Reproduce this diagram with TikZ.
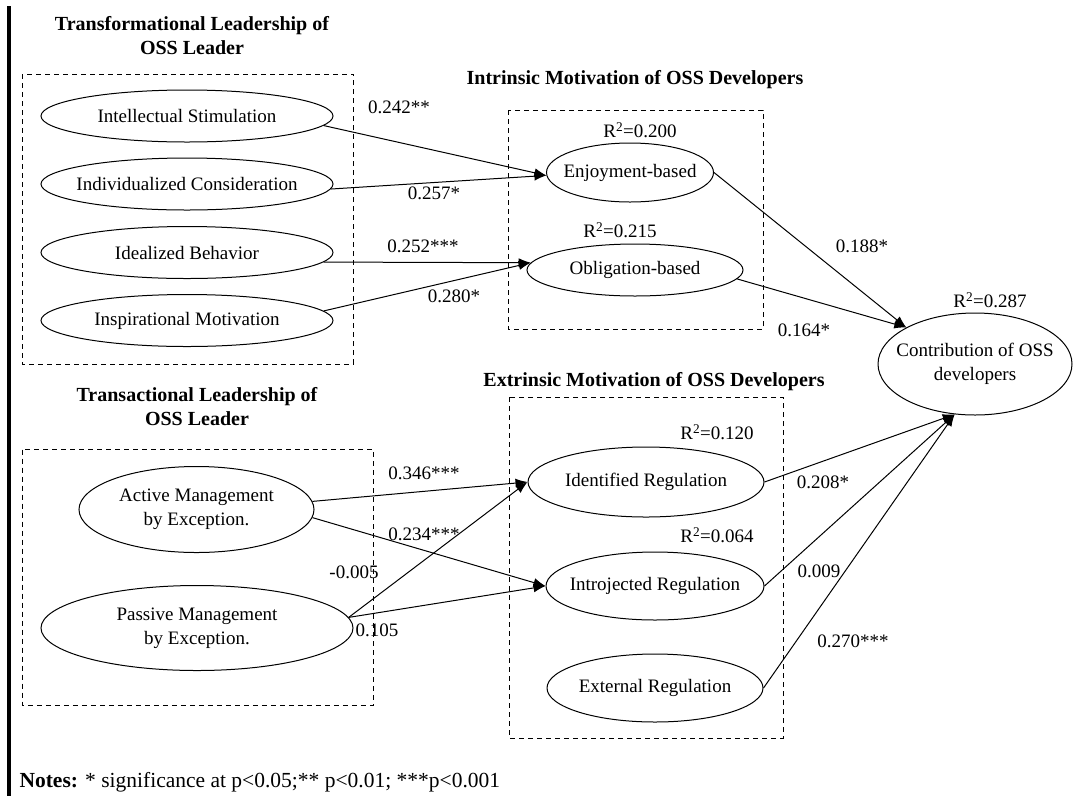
\documentclass[tikz,border=0pt]{standalone}
\usepackage{fontspec}
\setmainfont{Liberation Serif}
\usetikzlibrary{arrows.meta, shapes.geometric}

\tikzset{
    construct/.style={draw, ellipse, line width=1pt, inner sep=0pt},
    groupbox/.style={draw, line width=1pt, dash pattern=on 5pt off 4pt},
    effect/.style={-{Latex[length=12pt, width=9pt]}, line width=1pt},
    heading/.style={font=\fontsize{20}{24}\selectfont\bfseries, align=center},
    every label/.style={align=center},
}

\begin{document}
\begin{tikzpicture}[x=1pt, y=-1pt, font=\fontsize{19}{24}\selectfont]
        \useasboundingbox (0, 0) rectangle (1073, 796);
        \draw[line width=3.5pt] (9, 6) -- (9, 796);

        \node[heading](tfl) at (192, 35.5) {Transformational Leadership of\\OSS Leader};
        \node[heading](iml) at (635, 80) {Intrinsic Motivation of OSS Developers};
        \node[heading](tal) at (197, 406.5) {Transactional Leadership of\\OSS Leader};
        \node[heading](eml) at (654, 382) {Extrinsic Motivation of OSS Developers};

        \draw[groupbox] (22.4, 74) rectangle (353.5, 364);
        \draw[groupbox] (508, 110) rectangle (763, 329);
        \draw[groupbox] (22.4, 449.5) rectangle (373.5, 705);
        \draw[groupbox] (509, 397) rectangle (783, 738);

        \node[construct, minimum width=292pt, minimum height=52pt, label=center:Intellectual Stimulation](is) at (187, 116) {};
        \node[construct, minimum width=292pt, minimum height=52pt, label=center:Individualized Consideration](ic) at (187, 184) {};
        \node[construct, minimum width=292pt, minimum height=52pt, label=center:Idealized Behavior](ib) at (187, 252.5) {};
        \node[construct, minimum width=292pt, minimum height=52pt, label=center:Inspirational Motivation](im) at (187, 320.5) {};
        \node[construct, minimum width=235pt, minimum height=86pt, label=center:Active Management\\by Exception.](act) at (196.5, 509.5) {};
        \node[construct, minimum width=312pt, minimum height=85pt, label=center:Passive Management\\by Exception.](pas) at (197, 628) {};
        \node[construct, minimum width=167pt, minimum height=59pt, label=center:Enjoyment-based](enj) at (630, 172.5) {};
        \node[construct, minimum width=216pt, minimum height=52pt, label=center:Obligation-based](obl) at (635, 270) {};
        \node[construct, minimum width=236pt, minimum height=70pt, label=center:Identified Regulation](ide) at (646, 482) {};
        \node[construct, minimum width=218pt, minimum height=68pt, label=center:Introjected Regulation](int) at (655, 586) {};
        \node[construct, minimum width=216pt, minimum height=68pt, label=center:External Regulation](ext) at (655, 688) {};
        \node[construct, minimum width=194pt, minimum height=102pt, label=center:Contribution of OSS\\developers](con) at (975, 364) {};

        \node(renj) at (640, 130) {R\textsuperscript{2}=0.200};
        \node(robl) at (620, 230) {R\textsuperscript{2}=0.215};
        \node(rcon) at (990, 300) {R\textsuperscript{2}=0.287};
        \node(ride) at (717, 432) {R\textsuperscript{2}=0.120};
        \node(rint) at (717, 535) {R\textsuperscript{2}=0.064};

        \draw[effect] (is.-4) -- (enj.182);
        \draw[effect] (ic.-2) -- (enj.182);
        \draw[effect] (ib.-4) -- (obl.176);
        \draw[effect] (im.4) -- (obl.176);
        \draw[effect] (enj.east) -- (con.152);
        \draw[effect] (obl.-5) -- (con.152);
        \draw[effect] (act.4) -- (ide.west);
        \draw[effect] (act.-4) -- (int.west);
        \draw[effect] (pas.4) -- (ide.west);
        \draw[effect] (pas.4) -- (int.west);
        \draw[effect] (ide.east) -- (con.248);
        \draw[effect] (int.east) -- (con.248);
        \draw[effect] (ext.east) -- (con.248);

        \node(pis) at (399, 107) {0.242**};
        \node(pic) at (434, 193) {0.257*};
        \node(pib) at (423, 246) {0.252***};
        \node(pim) at (454, 296) {0.280*};
        \node(penj) at (862, 246) {0.188*};
        \node(pobl) at (804, 330) {0.164*};
        \node(pai) at (424, 473) {0.346***};
        \node(pan) at (424, 534) {0.234***};
        \node(ppi) at (354, 572) {-0.005};
        \node(ppn) at (377, 630) {0.105};
        \node(pide) at (823, 482) {0.208*};
        \node(pint) at (819, 571) {0.009};
        \node(pext) at (853, 641) {0.270***};

        \node[anchor=west, font=\fontsize{21.5}{24}\selectfont](notes) at (16, 782) {\textbf{Notes:} * significance at p<0.05;** p<0.01; ***p<0.001};
    \end{tikzpicture}
\end{document}
